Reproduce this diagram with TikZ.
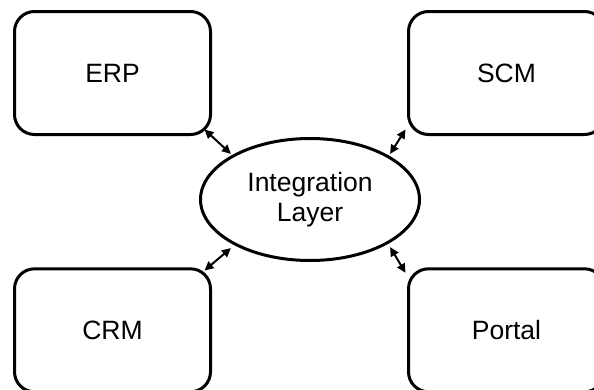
\documentclass[tikz,border=0pt]{standalone}
\usepackage{fontspec}
\setmainfont{Liberation Sans}
\usetikzlibrary{arrows.meta,calc,shapes.geometric}

\tikzset{
  sysbox/.style={draw, line width=3pt, rounded corners=20pt,
    minimum width=196pt, minimum height=123pt, inner sep=0pt,
    font=\fontsize{26.5}{30}\selectfont},
  hub/.style={draw, ellipse, line width=3pt, inner sep=0pt,
    minimum width=219pt, minimum height=122pt, align=center,
    font=\fontsize{26.5}{30}\selectfont},
  link/.style={line width=2pt,
    {Triangle[length=9pt,width=8.5pt]}-{Triangle[length=9pt,width=8.5pt]}}
}

\begin{document}
\begin{tikzpicture}[x=1pt,y=-1pt]
  \useasboundingbox (0,0) rectangle (594,389);
  \clip (0,0) rectangle (594,389);

  % central hub
  \node[hub] (ell) at (310,199.5) {Integration\\Layer};

  % surrounding systems
  \node[sysbox] (erp)    at (112.5,73)  {ERP};
  \node[sysbox] (scm)    at (506.5,73)  {SCM};
  \node[sysbox] (crm)    at (112.5,330.3) {CRM};
  \node[sysbox] (portal) at (506.5,330.3) {Portal};

  % two-way links between hub and systems
  \draw[link] ($(erp.south east)+(-7.5,-6.5)$) -- ($(ell.north west)+(-0.6,-1.4)$);
  \draw[link] ($(scm.south west)+(-1.5,-6.5)$) -- ($(ell.north east)+(1.6,-1.4)$);
  \draw[link] ($(crm.north east)+(-7.5,3.2)$) -- ($(ell.south west)+(-0.6,4.4)$);
  \draw[link] ($(portal.north west)+(-1.5,5.5)$) -- ($(ell.south east)+(1.6,3.4)$);
\end{tikzpicture}
\end{document}
